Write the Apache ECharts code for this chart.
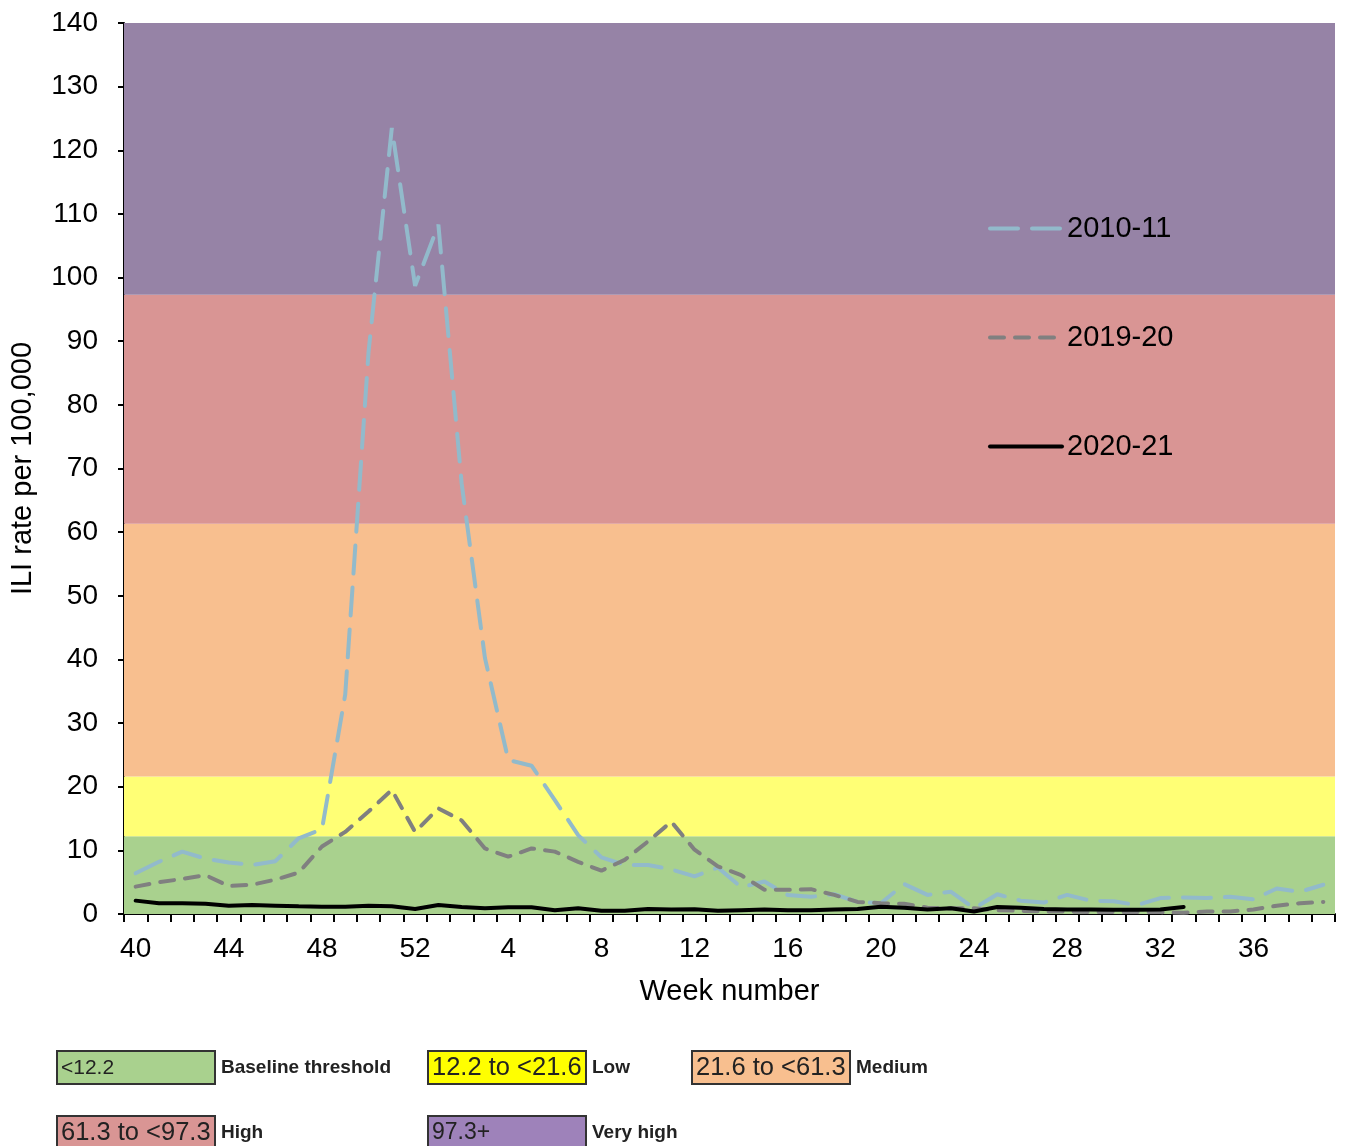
<!DOCTYPE html>
<html>
<head>
<meta charset="utf-8">
<script src="https://cdn.jsdelivr.net/npm/echarts@6/dist/echarts.min.js"></script>
<style>
html,body{margin:0;padding:0;background:#fff;}
#chart{width:1346px;height:1146px;}
</style>
</head>
<body>
<div id="chart"></div>
<script>
// ---- data ----
const weeks = ['40','41','42','43','44','45','46','47','48','49','50','51','52',
  '1','2','3','4','5','6','7','8','9','10','11','12','13','14','15','16','17','18','19','20',
  '21','22','23','24','25','26','27','28','29','30','31','32','33','34','35','36','37','38','39'];

const s2010_11 = [6.4, 8.2, 9.8, 8.7, 8.1, 7.7, 8.3, 11.9, 13.3, 34.5, 88.3, 123.5, 98.7,
  108.3, 67.6, 40.2, 24.2, 23.3, 17.9, 12.4, 8.9, 7.7, 7.7, 7.0, 5.9, 7.3, 4.2, 5.1, 3.0, 2.7, 3.1, 1.9, 1.7,
  4.7, 3.0, 3.5, 0.9, 3.1, 2.1, 1.8, 3.0, 2.1, 2.0, 1.4, 2.5, 2.6, 2.5, 2.7, 2.3, 4.0, 3.5, 4.6];

const s2019_20 = [4.3, 5.0, 5.5, 6.1, 4.4, 4.6, 5.4, 6.5, 10.6, 12.9, 16.1, 19.5, 12.9,
  16.6, 14.7, 10.3, 9.0, 10.3, 9.8, 8.2, 6.8, 8.5, 11.4, 14.5, 10.1, 7.5, 6.1, 3.8, 3.8, 3.9, 3.0, 1.9, 1.7,
  1.6, 1.0, 0.9, 0.9, 0.6, 0.5, 0.4, 0.4, 0.3, 0.3, 0.3, 0.3, 0.2, 0.4, 0.4, 0.7, 1.3, 1.7, 1.9];

const s2020_21 = [2.1, 1.7, 1.7, 1.6, 1.3, 1.4, 1.3, 1.2, 1.15, 1.15, 1.3, 1.2, 0.8,
  1.4, 1.1, 0.9, 1.05, 1.05, 0.6, 0.9, 0.5, 0.5, 0.8, 0.7, 0.75, 0.5, 0.6, 0.7, 0.6, 0.6, 0.7, 0.8, 1.15,
  1.0, 0.7, 0.9, 0.4, 1.1, 1.0, 0.8, 0.7, 0.7, 0.65, 0.65, 0.7, 1.1, null, null, null, null, null, null];

const seriesNames = ['2010-11', '2019-20', '2020-21'];

// activity level thresholds
const bandBounds = [0, 12.2, 21.6, 61.3, 97.3, 140];
const bandLabels = ['<12.2', '12.2 to <21.6', '21.6 to <61.3', '61.3 to <97.3', '97.3+'];
const bandNames = ['Baseline threshold', 'Low', 'Medium', 'High', 'Very high'];

// ---- styles ----
const FONT = '"Liberation Sans", Arial, sans-serif';
const bandFill = ['#a9d18e', '#ffff75', '#f8bf8f', '#d99594', '#9683a6'];
const boxFill = ['#a9d18e', '#ffff00', '#f8bf8f', '#d99594', '#9e82ba'];
const boxPos = [[56, 1050], [427, 1050], [691, 1050], [56, 1115], [427, 1115]];
const boxFont = [21, 25.5, 25.5, 25.5, 23];

const chart = echarts.init(document.getElementById('chart'));

const areas = [];
for (let i = 0; i < bandFill.length; i++) {
  areas.push([{ yAxis: bandBounds[i], itemStyle: { color: bandFill[i], opacity: 1 } }, { yAxis: bandBounds[i + 1] }]);
}

const graphics = [];
for (let i = 0; i < bandLabels.length; i++) {
  const [x, y] = boxPos[i];
  graphics.push({
    type: 'rect', left: x, top: y,
    shape: { width: 158, height: 33 },
    style: { fill: boxFill[i], stroke: '#333', lineWidth: 2 }
  });
  graphics.push({
    type: 'text', left: x + 5, top: y + 19 - boxFont[i] * 0.55,
    style: { text: bandLabels[i], fill: '#222', font: boxFont[i] + 'px ' + FONT }
  });
  graphics.push({
    type: 'text', left: x + 165, top: y + 8,
    style: { text: bandNames[i], fill: '#222', font: 'bold 19px ' + FONT }
  });
}

const lineColors = ['#92bacb', '#808080', '#000000'];
const dashes = [[28, 14], [14, 11], 'solid'];
const dataSets = [s2010_11, s2019_20, s2020_21];

const series = [{
  name: 'bands', type: 'line', data: [], silent: true, z: 1,
  markArea: { silent: true, data: areas }
}];
for (let i = 0; i < 3; i++) {
  series.push({
    name: seriesNames[i], type: 'line', data: dataSets[i], symbol: 'none', z: 3 + i,
    lineStyle: { color: lineColors[i], width: 4, type: dashes[i], cap: 'round' },
    itemStyle: { color: lineColors[i] }
  });
}

chart.setOption({
  animation: false,
  backgroundColor: '#fff',
  grid: { left: 120, right: 11, top: 23, bottom: 232, containLabel: false },
  legend: {
    orient: 'vertical', left: 983, top: 209,
    data: seriesNames,
    itemWidth: 72, itemHeight: 28, itemGap: 80,
    itemStyle: { opacity: 0 },
    lineStyle: { width: 4 },
    textStyle: { fontSize: 29, color: '#000', fontFamily: FONT, lineHeight: 28 }
  },
  xAxis: {
    type: 'category', data: weeks, boundaryGap: true,
    name: 'Week number', nameLocation: 'middle', nameGap: 63,
    nameTextStyle: { fontSize: 29, color: '#000', fontFamily: FONT },
    axisLine: { lineStyle: { color: '#000', width: 2 } },
    axisTick: { show: true, interval: 0, length: 8, lineStyle: { color: '#000', width: 2 } },
    axisLabel: { interval: 3, fontSize: 28, color: '#000', margin: 21, fontFamily: FONT },
    splitLine: { show: false }
  },
  yAxis: {
    type: 'value', min: 0, max: 140, interval: 10,
    name: 'ILI rate per 100,000', nameLocation: 'middle', nameGap: 87,
    nameTextStyle: { fontSize: 29, color: '#000', fontFamily: FONT },
    axisLine: { show: true, lineStyle: { color: '#000', width: 2 } },
    axisTick: { show: true, length: 6, lineStyle: { color: '#000', width: 2 } },
    axisLabel: { fontSize: 28, color: '#000', margin: 26, fontFamily: FONT },
    splitLine: { show: false }
  },
  graphic: graphics,
  series: series
});
</script>
</body>
</html>
